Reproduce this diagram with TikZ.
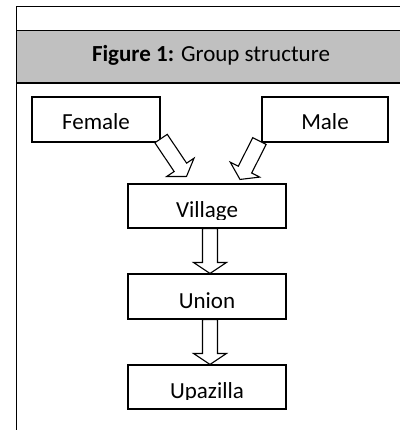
\documentclass[tikz,border=0pt]{standalone}
\usepackage{fontspec}
\setmainfont{Carlito}
\usetikzlibrary{calc}
\definecolor{headgray}{RGB}{192,192,192}
\newcommand\blockarrow[2]{%
  \coordinate (ba-h) at ($(#2)!11pt!(#1)$);
  \draw[blk] ($(#1)!7.5pt!90:(#2)$) -- ($(ba-h)!7.5pt!-90:(#1)$) -- ($(ba-h)!16.5pt!-90:(#1)$)
    -- (#2) -- ($(ba-h)!16.5pt!90:(#1)$) -- ($(ba-h)!7.5pt!90:(#1)$) -- ($(#1)!7.5pt!-90:(#2)$) -- cycle;}
\begin{document}
\begin{tikzpicture}[x=1pt,y=-1pt,line width=1.1pt,
  box/.style={draw,rectangle,inner sep=0pt},
  lbl/.style={font=\fontsize{23}{26}\selectfont,inner sep=0pt,anchor=base},
  blk/.style={draw,fill=white,line width=1.1pt,line join=miter}]
\useasboundingbox (0,0) rectangle (399,430);
\fill[white] (0,0) rectangle (399,430);
% frame and header
\draw (16.5,440) -- (16.5,6.5) -- (410,6.5);
\draw[fill=headgray] (16.5,30.5) rectangle (410,83);
\node[lbl] (title) at (211,62) {\textbf{Figure 1:} Group structure};
% boxes
\node[box,minimum width=128pt,minimum height=45pt] (Female) at (96,119.5) {};
\node[box,minimum width=126pt,minimum height=45pt] (Male) at (325,119.5) {};
\node[box,minimum width=158pt,minimum height=44pt] (Village) at (207,206) {};
\node[box,minimum width=158pt,minimum height=45pt] (Union) at (207,296.5) {};
\node[box,minimum width=158pt,minimum height=44pt] (Upazilla) at (207,387) {};
% texts
\node[lbl] (tFemale) at (96,130) {Female};
\node[lbl] (tMale) at (325,130) {Male};
\begin{scope}
  \clip (130,186) rectangle (284,219);
  \node[lbl] (tVillage) at (207,217) {Village};
\end{scope}
\node[lbl] (tUnion) at (207,308) {Union};
\begin{scope}
  \clip (130,367) rectangle (284,399.5);
  \node[lbl] (tUpazilla) at (207,398) {Upazilla};
\end{scope}
% arrows
\coordinate (fT) at ($(Female.south east)+(0.5,-4)$);
\coordinate (fP) at ($(Village.north)+(-20.5,-7)$);
\coordinate (mT) at ($(Male.south west)+(-2,-1.5)$);
\coordinate (mP) at ($(Village.north)+(33,-4)$);
\coordinate (v1T) at ($(Village.south)+(3,0)$);
\coordinate (v1P) at ($(Union.north)+(3,0)$);
\coordinate (v2T) at ($(Union.south)+(3,0)$);
\coordinate (v2P) at ($(Upazilla.north)+(3,0)$);
\blockarrow{fT}{fP}
\blockarrow{mT}{mP}
\blockarrow{v1T}{v1P}
\blockarrow{v2T}{v2P}
\end{tikzpicture}
\end{document}
